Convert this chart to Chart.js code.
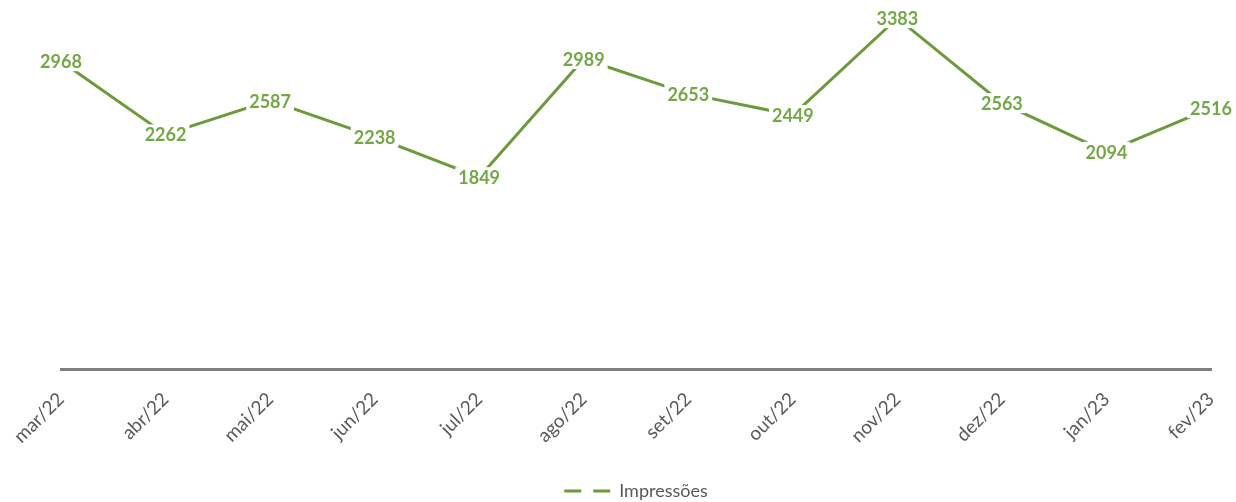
<!DOCTYPE html>
<html lang="pt">
<head>
<meta charset="utf-8">
<title>Impressões</title>
<script src="https://cdn.jsdelivr.net/npm/chart.js@4/dist/chart.umd.min.js"></script>
<style>
  html, body { margin: 0; padding: 0; background: #fff; }
  #wrap { width: 1236px; height: 502px; position: relative; }
</style>
</head>
<body>
<div id="wrap"><canvas id="impressoesChart"></canvas></div>
<script>
// months shown on the x axis
const meses = ["mar/22", "abr/22", "mai/22", "jun/22", "jul/22", "ago/22",
  "set/22", "out/22", "nov/22", "dez/22", "jan/23", "fev/23"];

// monthly impressions
const impressoes = [2968, 2262, 2587, 2238, 1849, 2989, 2653, 2449, 3383, 2563, 2094, 2516];

const lineColor = "#6c9a3c";
const labelColor = "#74a745";
const tickColor = "#595959";

// draw the value over each point, with a white box so the line stops short of it
const valueLabels = {
  id: "valueLabels",
  afterDatasetsDraw(chart) {
    const ctx = chart.ctx;
    const meta = chart.getDatasetMeta(0);
    ctx.save();
    ctx.font = "bold 18px Lato";
    ctx.textAlign = "center";
    ctx.textBaseline = "middle";
    meta.data.forEach((pt, i) => {
      const txt = String(impressoes[i]);
      const w = ctx.measureText(txt).width;
      ctx.fillStyle = "#ffffff";
      ctx.fillRect(pt.x - w / 2 - 3, pt.y - 10, w + 6, 20);
      ctx.fillStyle = labelColor;
      ctx.fillText(txt, pt.x, pt.y + 1);
    });
    ctx.restore();
  }
};

const ctx = document.getElementById("impressoesChart").getContext("2d");
new Chart(ctx, {
  type: "line",
  data: {
    labels: meses,
    datasets: [{
      label: "Impressões",
      data: impressoes,
      borderColor: lineColor,
      backgroundColor: lineColor,
      borderWidth: 3,
      tension: 0,
      pointRadius: 0,
      pointStyle: "line",
    }],
  },
  options: {
    responsive: true,
    maintainAspectRatio: false,
    animation: false,
    layout: { padding: { left: 61, right: 25, top: 6, bottom: 0 } },
    plugins: {
      tooltip: { enabled: false },
      legend: {
        position: "bottom",
        maxHeight: 30,
        labels: {
          usePointStyle: true,
          pointStyleWidth: 46,
          padding: 10,
          color: tickColor,
          font: { family: "Lato", size: 18 },
          generateLabels(chart) {
            const items = Chart.defaults.plugins.legend.labels.generateLabels(chart);
            items.forEach(it => {
              it.lineDash = [17, 12];
              it.lineWidth = 3;
              it.strokeStyle = lineColor;
            });
            return items;
          },
        },
      },
    },
    scales: {
      y: {
        display: false,
        min: 0,
        max: 3500,
      },
      x: {
        offset: false,
        afterFit(scale) {
          scale.height = 103;
          // keep the plot edges where the layout padding puts them
          scale.paddingLeft = 0;
          scale.paddingRight = 0;
        },
        grid: { display: false, drawTicks: false },
        border: { display: true, color: "#808080", width: 3 },
        ticks: {
          color: tickColor,
          font: { family: "Lato", size: 19 },
          minRotation: 45,
          maxRotation: 45,
          padding: 19,
          autoSkip: false,
        },
      },
    },
  },
  plugins: [valueLabels],
});
</script>
</body>
</html>
